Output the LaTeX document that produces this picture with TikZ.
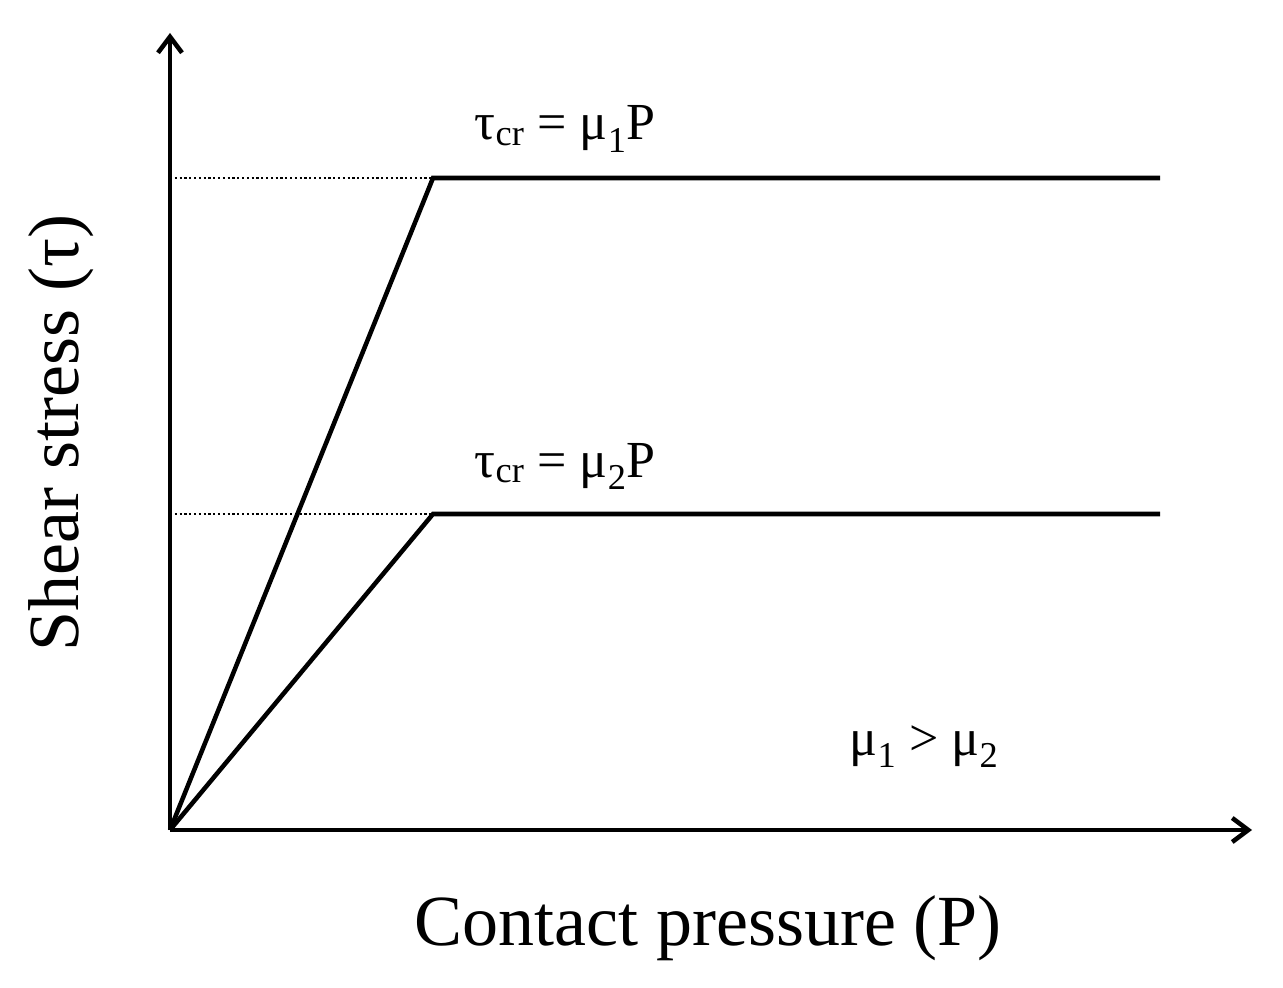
\documentclass[tikz,border=0pt]{standalone}
\usepackage{fontspec}
\usetikzlibrary{arrows.meta}
\setmainfont{Liberation Serif}
\begin{document}
\begin{tikzpicture}[x=0.75pt,y=-0.75pt,
  ln/.style={line width=3.4pt},
  dt/.style={line width=1.6pt,dotted},
  ax/.style={line width=3.4pt,-{Straight Barb[length=12pt,width=18pt,line width=3.4pt]}},
  big/.style={font=\fontsize{54}{64}\selectfont},
  lab/.style={font=\fontsize{39}{46}\selectfont}]
\useasboundingbox (0,0) rectangle (1283,988);
\coordinate (O) at (170,830);
\coordinate (Y) at (170,33);
\coordinate (X) at (1252,830);
\coordinate (K1) at (433,178);
\coordinate (K2) at (433,514);
\coordinate (E1) at (1160,178);
\coordinate (E2) at (1160,514);
\coordinate (D1) at (170,178);
\coordinate (D2) at (170,514);
\draw[ax] (O) -- (Y);
\draw[ax] (O) -- (X);
\draw[ln,line join=miter] (O) -- (K1) -- (E1);
\draw[ln,line join=miter] (O) -- (K2) -- (E2);
\draw[dt] (D1) -- (K1);
\draw[dt] (D2) -- (K2);
\node[lab,anchor=base west] (l1) at (470,140) {τ\textsubscript{cr} = μ\textsubscript{1}P};
\node[lab,anchor=base west] (l2) at (470,477) {τ\textsubscript{cr} = μ\textsubscript{2}P};
\node[lab,anchor=base west] (l3) at (845,755) {μ\textsubscript{1} > μ\textsubscript{2}};
\node[big,anchor=base] (xl) at (708,945) {Contact pressure (P)};
\node[big,anchor=base,rotate=90] (yl) at (78,433) {Shear stress (τ)};
\end{tikzpicture}
\end{document}
